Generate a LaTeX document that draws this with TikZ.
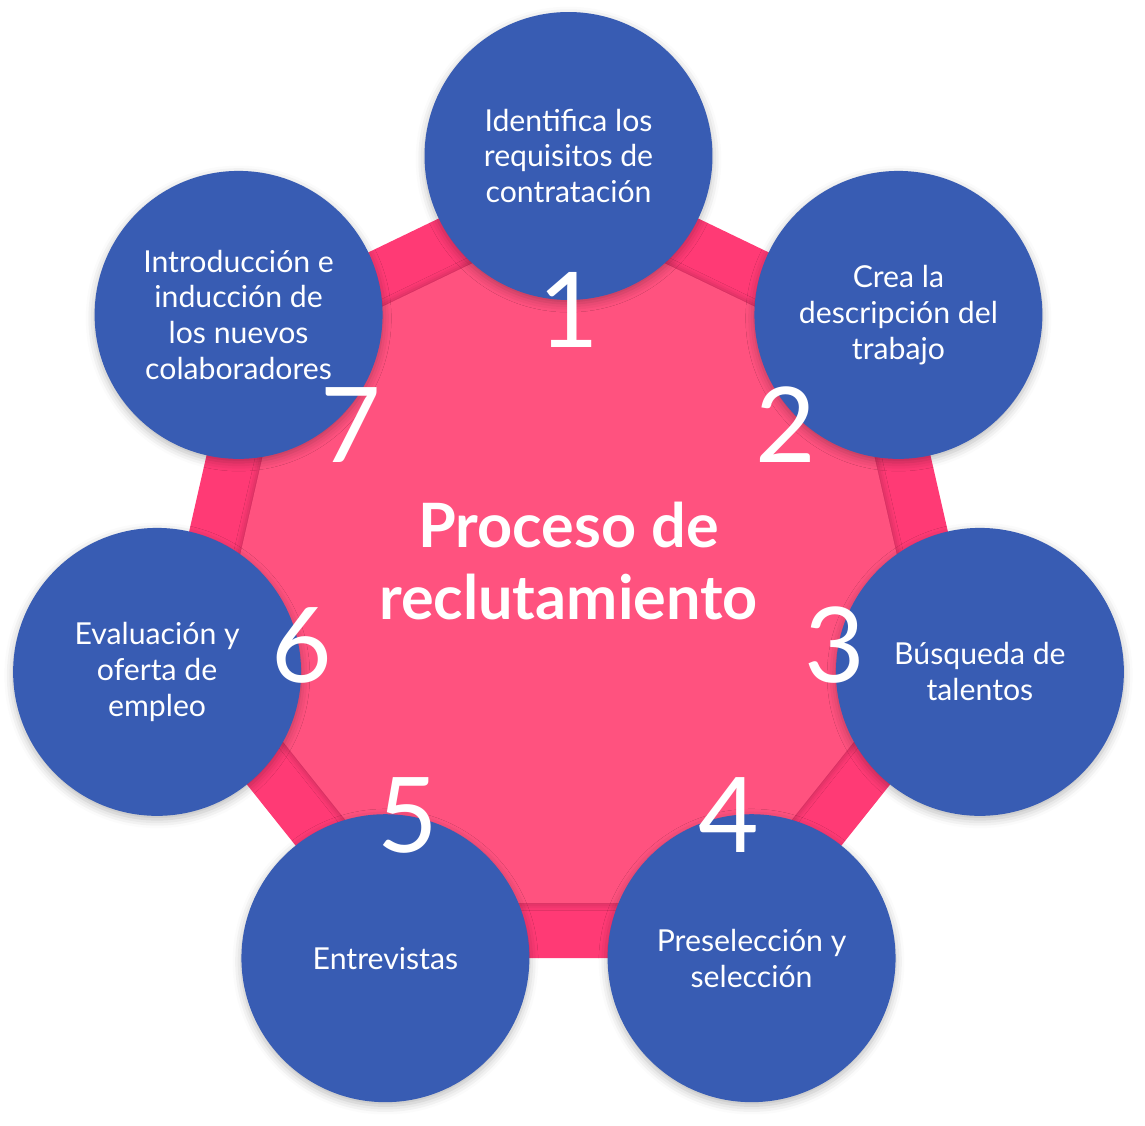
\documentclass[tikz,border=0pt]{standalone}
\usepackage{fontspec}
\setmainfont{Lato}
\usetikzlibrary{shadows.blur}
\definecolor{ring}{HTML}{FF3A75}
\definecolor{core}{HTML}{FF527F}
\definecolor{stageblue}{HTML}{385CB3}
\newcommand{\heptapath}[1]{%
  (90:#1) \foreach \k in {1,...,6}{ -- ({90-\k*360/7}:#1)} -- cycle}

\begin{document}
\begin{tikzpicture}[x=0.02cm,y=0.02cm,
  softshadow/.style={blur shadow={shadow xshift=0pt,shadow yshift=-2pt,
                     shadow blur radius=5pt,shadow opacity=28}},
  stage/.style={circle,fill=stageblue,minimum size=5.76cm,inner sep=0pt,
                text=white,align=center,softshadow,
                font=\fontsize{17.2}{20.4}\selectfont},
  stagenum/.style={text=white,inner sep=0pt,
                   font=\fontsize{59.5}{60}\selectfont}]
  \useasboundingbox (-568.5,578) rectangle (576.5,-547);

  % heptagon ring and core
  \fill[ring] \heptapath{422};
  \fill[core,blur shadow={shadow xshift=0pt,shadow yshift=0pt,
        shadow blur radius=4pt,shadow opacity=30}] \heptapath{361};

  % the seven stages
  \foreach \k/\txt in {0/{Identifica los\\requisitos de\\contratación},
                       1/{Crea la\\descripción del\\trabajo},
                       2/{Búsqueda de\\talentos},
                       3/{Preselección y\\selección},
                       4/{Entrevistas},
                       5/{Evaluación y\\oferta de\\empleo},
                       6/{Introducción e\\inducción de\\los nuevos\\colaboradores}}{%
    \node[stage] (stage\k) at ({90-\k*360/7}:422) {\txt};}

  \foreach \n/\x/\y in {1/0.5/268,2/217.5/153,3/266.5/-67,4/160.5/-237,
                        5/-160.5/-237,6/-266.5/-67,7/-217.5/153}{%
    \node[stagenum] (num\n) at (\x,\y) {\n};}

  \node[text=white,align=center,
        font=\bfseries\fontsize{34.8}{40.8}\selectfont] (title) at (0,17)
       {Proceso de\\reclutamiento};
\end{tikzpicture}
\end{document}
